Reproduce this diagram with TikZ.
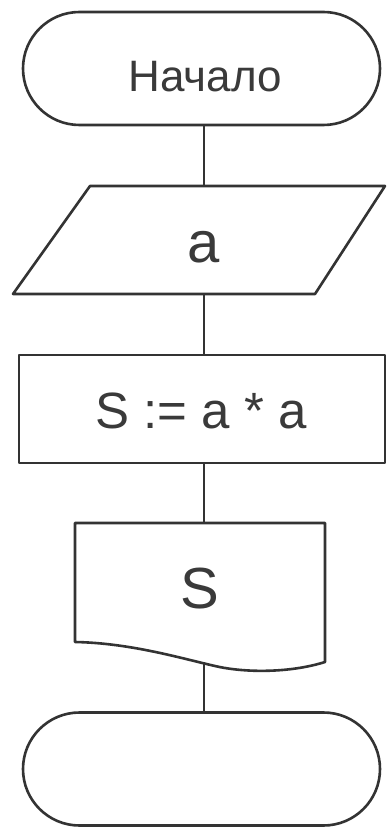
\documentclass[tikz,border=0pt]{standalone}
\usepackage{fontspec}
\setmainfont{Liberation Sans}
\usetikzlibrary{shapes.misc}
\definecolor{lc}{HTML}{333333}
\definecolor{tc}{HTML}{3A3A3A}
\begin{document}
\begin{tikzpicture}[x=1pt,y=-1pt,
  outline/.style={draw=lc, line width=2.6pt, line join=round},
  link/.style={draw=lc, line width=2pt},
  term/.style={outline, rounded rectangle, minimum width=357pt, minimum height=113pt, inner sep=0pt},
  proc/.style={outline, rectangle, minimum width=366pt, minimum height=108pt, inner sep=0pt},
  lbl/.style={text=tc, anchor=base, inner sep=0pt}]
\useasboundingbox (0,0) rectangle (387,834);
\fill[white] (0,0) rectangle (387,834);

% shapes
\node[term] (start) at (201.5,68.5) {};
\path[outline] (90,186) -- (385,186) -- (315,294) -- (13,294) -- cycle;
\node[proc] (calc) at (202,409) {};
\path[outline] (75,523) -- (325,523) -- (325,662)
  .. controls (290,673) and (245,673) .. (215,666)
  .. controls (180,658) and (130,643) .. (75,642) -- cycle;
\node[term] (stop) at (201.5,769) {};

% labels
\node[lbl, font=\fontsize{44}{44}\selectfont] (tstart) at (205,92) {Начало};
\node[lbl, font=\fontsize{58}{58}\selectfont] (tin) at (204,262) {a};
\node[lbl, font=\fontsize{51}{51}\selectfont] (tcalc) at (201,428) {S := a * a};
\node[lbl, font=\fontsize{58}{58}\selectfont] (tout) at (200,608) {S};

% connector ends
\coordinate (s1) at (204,125);
\coordinate (e1) at (204,186);
\coordinate (s2) at (204,294);
\coordinate (e2) at (204,355);
\coordinate (s3) at (204,463);
\coordinate (e3) at (204,523);
\coordinate (s4) at (204,663);
\coordinate (e4) at (204,713);

\draw[link] (s1) -- (e1);
\draw[link] (s2) -- (e2);
\draw[link] (s3) -- (e3);
\draw[link] (s4) -- (e4);
\end{tikzpicture}
\end{document}
